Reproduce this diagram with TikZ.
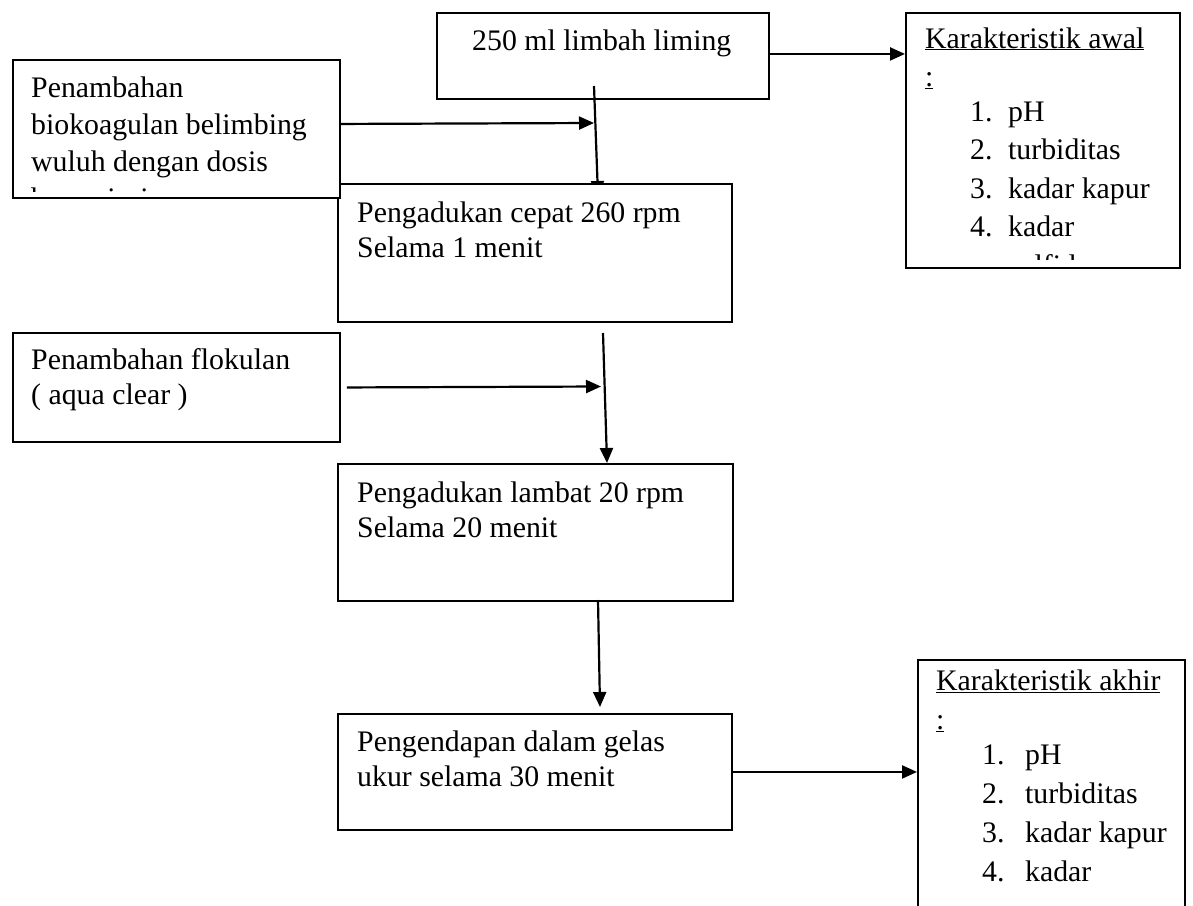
\documentclass[tikz,border=0pt]{standalone}
\usepackage{fontspec}
\setmainfont{Liberation Serif}
\usetikzlibrary{arrows.meta}
\newcommand\tlines[1]{\begin{tabular}[t]{@{}l@{}}#1\end{tabular}}
\begin{document}
\begin{tikzpicture}[x=1pt,y=-1pt,
  box/.style={draw, line width=1.9pt, fill=white, inner sep=0pt, anchor=north west},
  txt/.style={anchor=base west, inner sep=0pt, font=\fontsize{29.8}{35}\selectfont},
  lst/.style={anchor=base west, inner sep=0pt, font=\fontsize{29.8}{38.5}\selectfont},
  arr/.style={line width=2.2pt, -{Triangle[length=15pt,width=13pt]}}]
\clip (0,0) rectangle (1193,905);
\fill[white] (0,0) rectangle (1193,905);

% top box
\node[box, minimum width=332pt, minimum height=86pt] (A) at (436,12) {};
\node[txt] (At) at (472,50) {250 ml limbah liming};

% initial characteristics
\node[box, minimum width=274pt, minimum height=255pt] (D) at (905,12) {};
\begin{scope}
\clip (907,14) rectangle (1177,259);
\node[lst] (Dt) at (925,48) {\tlines{\underline{Karakteristik awal}\\
\underline{:}\\[-4pt]
\hspace*{45pt}\makebox[38pt][l]{1.}pH\\
\hspace*{45pt}\makebox[38pt][l]{2.}turbiditas\\
\hspace*{45pt}\makebox[38pt][l]{3.}kadar kapur\\
\hspace*{45pt}\makebox[38pt][l]{4.}kadar\\
\hspace*{83pt}sulfida}};
\end{scope}

% flocculant box
\node[box, minimum width=327pt, minimum height=109pt] (E) at (12,332) {};
\node[txt] (Et) at (31,369) {\tlines{Penambahan flokulan\\( aqua clear )}};

% slow mixing
\node[box, minimum width=395pt, minimum height=137pt] (F) at (337,463) {};
\node[txt] (Ft) at (357,502) {\tlines{Pengadukan lambat 20 rpm\\Selama 20 menit}};

% settling
\node[box, minimum width=394pt, minimum height=116pt] (G) at (337,713) {};
\node[txt] (Gt) at (357,751) {\tlines{Pengendapan dalam gelas\\ukur selama 30 menit}};

% final characteristics
\node[box, minimum width=267pt, minimum height=270pt] (H) at (917,659) {};
\node[lst, font=\fontsize{29.8}{39}\selectfont] (Ht) at (936,690) {\tlines{\underline{Karakteristik akhir}\\
\underline{:}\\[-4pt]
\hspace*{46pt}\makebox[43pt][l]{1.}pH\\
\hspace*{46pt}\makebox[43pt][l]{2.}turbiditas\\
\hspace*{46pt}\makebox[43pt][l]{3.}kadar kapur\\
\hspace*{46pt}\makebox[43pt][l]{4.}kadar}};

% connectors
\coordinate (a1s) at (594,86);
\coordinate (a1e) at (598,196);
\coordinate (j1) at (594,123);
\coordinate (j2) at (601,386.5);
\coordinate (a2s) at (603,333);
\coordinate (a2e) at (607,463);
\coordinate (a3s) at (598,600);
\coordinate (a3e) at (600,707);

\draw[arr] ([yshift=2pt]A.east) -- ([yshift=2pt]A.east -| D.west);
\draw[arr] (a1s) -- (a1e);
\draw[arr] ([xshift=6pt]E.east) -- (j2);
\draw[arr] (a2s) -- (a2e);
\draw[arr] (a3s) -- (a3e);
\draw[arr] (G.east) -- (G.east -| H.west);

% fast mixing (drawn over the arrow tip)
\node[box, minimum width=394pt, minimum height=138pt] (C) at (337,183) {};
\node[txt] (Ct) at (357,222) {\tlines{Pengadukan cepat 260 rpm\\Selama 1 menit}};

% biocoagulant box (drawn over the corner of C)
\node[box, minimum width=327pt, minimum height=138pt] (B) at (12,59) {};
\begin{scope}
\clip (14,61) rectangle (337,191);
\node[txt, font=\fontsize{29.8}{37}\selectfont] (Bt) at (31,97) {\tlines{Penambahan\\biokoagulan belimbing\\wuluh dengan dosis\\bervariasi}};
\end{scope}
\draw[arr] ([yshift=5pt]B.east) -- (j1);
\end{tikzpicture}
\end{document}
